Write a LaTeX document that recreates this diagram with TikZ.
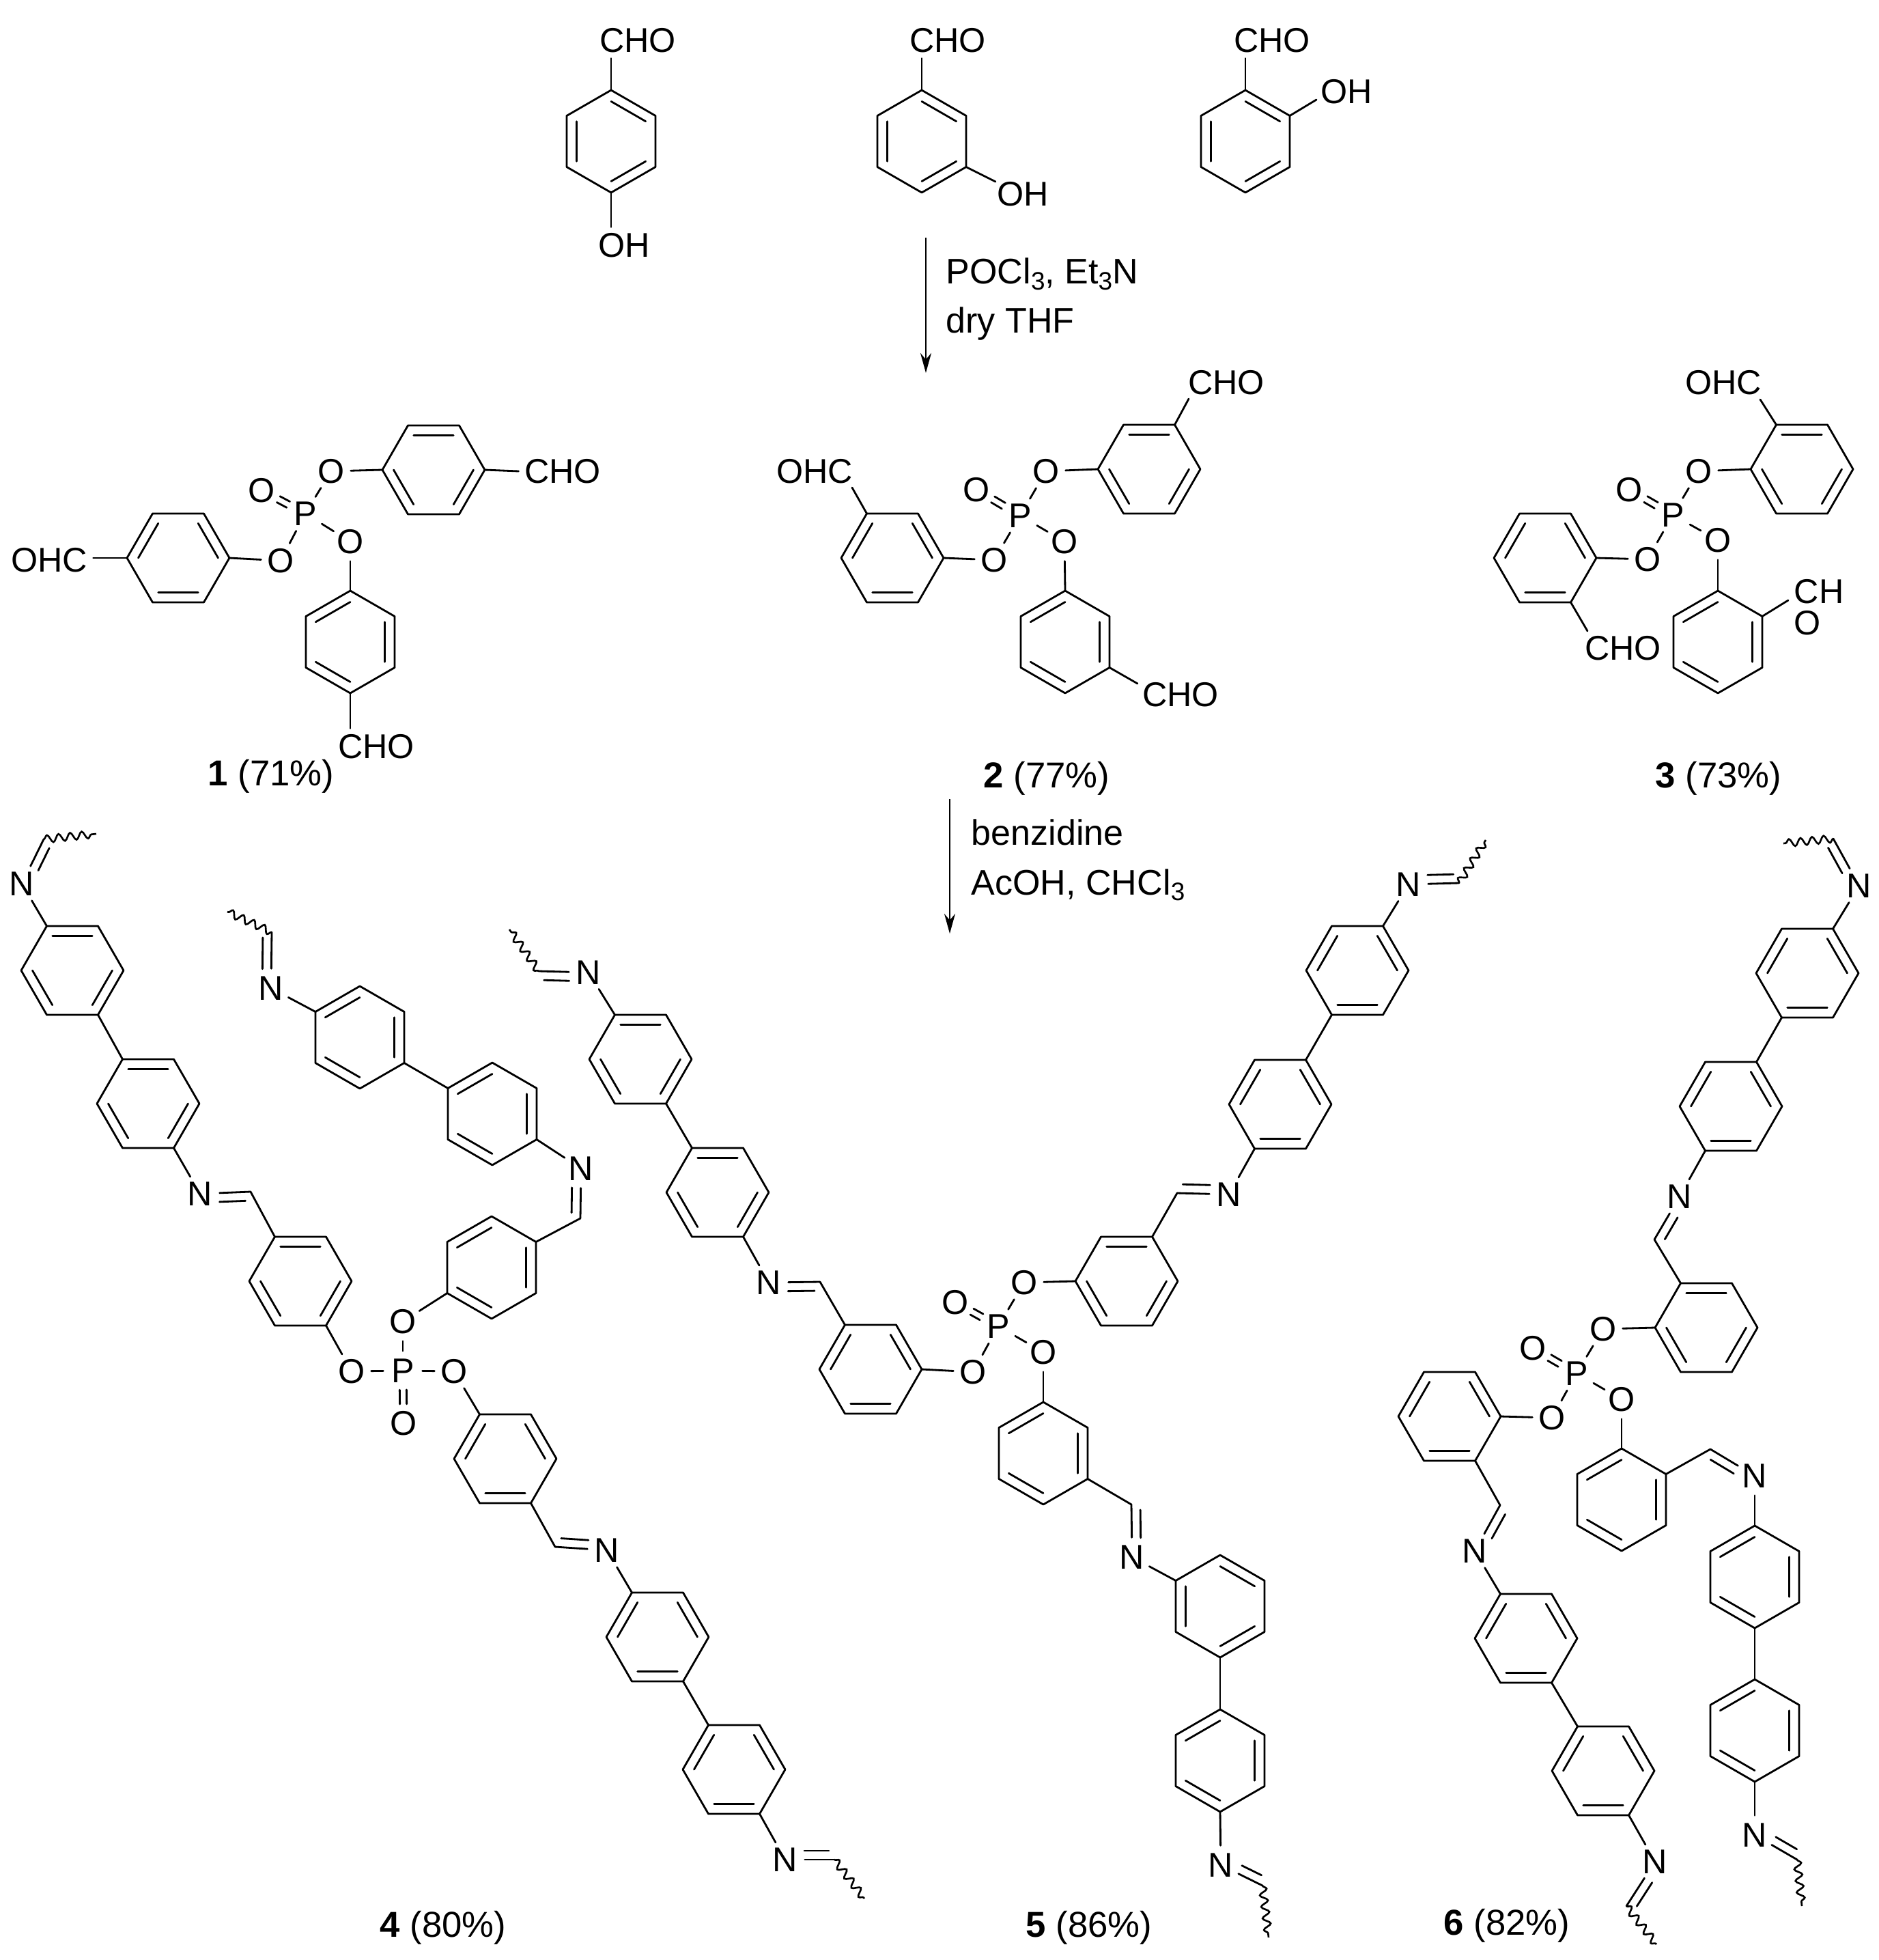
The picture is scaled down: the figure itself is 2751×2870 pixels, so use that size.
\documentclass[tikz,border=0pt]{standalone}
\usepackage{fontspec}
\setmainfont{Liberation Sans}
\usetikzlibrary{calc,arrows.meta,decorations.pathmorphing}
\newcommand{\chemfont}{\fontsize{14.3pt}{17pt}\selectfont}
\newcommand{\rxnfont}{\fontsize{14.8pt}{17pt}\selectfont}
\newcommand{\subn}[1]{\raisebox{-0.3ex}{\fontsize{10.5pt}{11pt}\selectfont #1}}
\tikzset{
  bond/.style={line width=0.8pt,line join=round,line cap=round},
  wavy/.style={line width=0.75pt,decorate,decoration={snake,amplitude=0.055cm,segment length=0.17cm}},
  atom/.style={circle,inner sep=0pt,minimum size=0.56cm,font=\chemfont},
  lab/.style={rectangle,inner sep=0.08cm,font=\chemfont},
  txt/.style={inner sep=0pt,font=\rxnfont,anchor=base west},
  yield/.style={inner sep=0pt,font=\fontsize{15pt}{18pt}\selectfont},
  rxn/.style={line width=0.7pt,-{Stealth[length=0.29cm,width=0.16cm]}}
}
\newcommand{\ringdbl}[3]{\draw[bond] ($(#1#2)!0.22!(#1c)$) -- ($(#1#3)!0.22!(#1c)$);}
\newcommand{\dblA}[1]{\ringdbl{#1}{1}{2}\ringdbl{#1}{3}{4}\ringdbl{#1}{5}{6}}
\newcommand{\dblB}[1]{\ringdbl{#1}{2}{3}\ringdbl{#1}{4}{5}\ringdbl{#1}{6}{1}}
\newcommand{\ringdraw}[2]{\draw[bond] (#11) -- (#12) -- (#13) -- (#14) -- (#15) -- (#16) -- cycle;\csname dbl#2\endcsname{#1}}
% flat-topped ring: name, cx, cy, set of double bonds
\newcommand{\ringF}[4]{%
  \coordinate (#1c) at (#2,#3);
  \coordinate (#11) at ({#2-37.5},{#3-65});
  \coordinate (#12) at ({#2+37.5},{#3-65});
  \coordinate (#13) at ({#2+75},{#3});
  \coordinate (#14) at ({#2+37.5},{#3+65});
  \coordinate (#15) at ({#2-37.5},{#3+65});
  \coordinate (#16) at ({#2-75},{#3});
  \ringdraw{#1}{#4}}
% pointy-topped ring
\newcommand{\ringP}[4]{%
  \coordinate (#1c) at (#2,#3);
  \coordinate (#11) at ({#2},{#3-75});
  \coordinate (#12) at ({#2+65},{#3-37.5});
  \coordinate (#13) at ({#2+65},{#3+37.5});
  \coordinate (#14) at ({#2},{#3+75});
  \coordinate (#15) at ({#2-65},{#3+37.5});
  \coordinate (#16) at ({#2-65},{#3-37.5});
  \ringdraw{#1}{#4}}
% P=O double bond
\newcommand{\podbl}[2]{%
  \coordinate (ts) at ($(#1)!0.28cm!(#2)$);
  \coordinate (te) at ($(#2)!0.28cm!(#1)$);
  \draw[bond] ($(ts)!0.05cm!90:(te)$) -- ($(te)!0.05cm!-90:(ts)$);
  \draw[bond] ($(ts)!0.05cm!-90:(te)$) -- ($(te)!0.05cm!90:(ts)$);}
% imine: N, C, side angle (90 or 270)
\newcommand{\imine}[3]{%
  \draw[bond] (#1) -- (#2);
  \coordinate (ts) at ($(#1)!0.28cm!(#2)$);
  \coordinate (te) at ($(#2)!0.08cm!(#1)$);
  \draw[bond] ($(ts)!0.13cm!#3:(te)$) -- ($(te)!0.13cm!-#3:(ts)$);}
% phosphate core
\newcommand{\core}[1]{%
  \draw[bond] (#1p) -- (#1oa);
  \draw[bond] (#1p) -- (#1ob);
  \draw[bond] (#1p) -- (#1oc);
  \podbl{#1p}{#1od}}
\begin{document}
\begin{tikzpicture}[x=0.01cm,y=-0.01cm]
\path[fill=white,use as bounding box] (0,0) rectangle (2751,2870);

% ---------- aldehyde starting materials ----------
\ringP{sa}{895}{207}{A}
\node[lab] (sacho) at (934,59) {CHO};
\node[lab] (saoh) at (914,359) {OH};
\draw[bond] (sa1) -- (sa1 |- sacho.south);
\draw[bond] (sa4) -- (sa4 |- saoh.north);

\ringP{sb}{1350}{207}{A}
\node[lab] (sbcho) at (1388,59) {CHO};
\node[lab] (sboh) at (1498,284) {OH};
\draw[bond] (sb1) -- (sb1 |- sbcho.south);
\draw[bond] (sb3) -- ([shift={(-40,-18)}]sboh.center);

\ringP{sc}{1824}{207}{A}
\node[lab] (sccho) at (1863,59) {CHO};
\node[lab] (scoh) at (1972,134) {OH};
\draw[bond] (sc1) -- (sc1 |- sccho.south);
\draw[bond] (sc2) -- ([shift={(-44,12)}]scoh.center);

% ---------- reaction arrows ----------
\coordinate (arAs) at (1356,348);
\coordinate (arAe) at (1356,546);
\draw[rxn] (arAs) -- (arAe);
\node[txt] (rxa) at (1385,416) {POCl\subn{3}, Et\subn{3}N};
\node[txt] (rxb) at (1385,487) {dry THF};
\coordinate (arBs) at (1391,1170);
\coordinate (arBe) at (1391,1367);
\draw[rxn] (arBs) -- (arBe);
\node[txt] (rxc) at (1422,1237) {benzidine};
\node[txt] (rxd) at (1422,1310) {AcOH, CHCl\subn{3}};

% ---------- compound 1 ----------
\ringF{ma}{635}{688}{A}
\ringF{mb}{261}{817}{B}
\ringP{mc}{513}{940}{B}
\node[atom] (m1p) at (447,752) {P};
\node[atom] (m1od) at (383,718) {O};
\node[atom] (m1oa) at (485,690) {O};
\node[atom] (m1ob) at (513,793) {O};
\node[atom] (m1oc) at (411,821) {O};
\core{m1}
\draw[bond] (m1oa) -- (ma6);
\draw[bond] (m1oc) -- (mb3);
\draw[bond] (m1ob) -- (mc1);
\node[lab] (m1x) at (824,690) {CHO};
\node[lab] (m1y) at (72,820) {OHC};
\node[lab] (m1z) at (551,1093) {CHO};
\draw[bond] (ma3) -- (m1x.west);
\draw[bond] (mb6) -- (mb6 -| m1y.east);
\draw[bond] (mc4) -- (mc4 |- m1z.north);
\node[yield] (y1) at (397,1137) {\textbf{1} (71\%)};

% ---------- compound 2 ----------
\ringF{na}{1683}{687}{A}
\ringF{nb}{1307}{817}{B}
\ringP{nc}{1560}{940}{B}
\node[atom] (m2p) at (1494,755) {P};
\node[atom] (m2od) at (1430,717) {O};
\node[atom] (m2oa) at (1532,690) {O};
\node[atom] (m2ob) at (1559,793) {O};
\node[atom] (m2oc) at (1456,820) {O};
\core{m2}
\draw[bond] (m2oa) -- (na6);
\draw[bond] (m2oc) -- (nb3);
\draw[bond] (m2ob) -- (nc1);
\node[lab] (m2x) at (1796,560) {CHO};
\node[lab] (m2y) at (1193,690) {OHC};
\node[lab] (m2z) at (1729,1017) {CHO};
\draw[bond] (na2) -- ([shift={(-55,24)}]m2x.center);
\draw[bond] (nb1) -- ([shift={(55,24)}]m2y.center);
\draw[bond] (nc3) -- ([shift={(-63,-16)}]m2z.center);
\node[yield] (y2) at (1533,1140) {\textbf{2} (77\%)};

% ---------- compound 3 ----------
\ringF{pa}{2639}{687}{A}
\ringF{pb}{2263}{817}{B}
\ringP{pc}{2516}{940}{B}
\node[atom] (m3p) at (2450,754) {P};
\node[atom] (m3od) at (2386,717) {O};
\node[atom] (m3oa) at (2488,690) {O};
\node[atom] (m3ob) at (2516,791) {O};
\node[atom] (m3oc) at (2413,819) {O};
\core{m3}
\draw[bond] (m3oa) -- (pa6);
\draw[bond] (m3oc) -- (pb3);
\draw[bond] (m3ob) -- (pc1);
\node[lab] (m3x) at (2524,560) {OHC};
\node[lab] (m3y) at (2377,949) {CHO};
\node[lab] (m3z) at (2664,866) {CH};
\node[lab] (m3w) at (2647,912) {O};
\draw[bond] (pa1) -- ([shift={(54,25)}]m3x.center);
\draw[bond] (pb4) -- ([shift={(-52,-25)}]m3y.center);
\draw[bond] (pc2) -- ([shift={(0,13)}]m3z.west);
\node[yield] (y3) at (2517,1140) {\textbf{3} (73\%)};

% ---------- compound 4 ----------
\ringF{qa}{106}{1421}{A}
\ringF{qb}{217}{1616}{A}
\ringF{qc}{440}{1876}{A}
\ringP{qd}{720}{1856}{B}
\ringP{qe}{721}{1631}{B}
\ringP{qf}{527}{1519}{B}
\ringF{qg}{740}{2136}{B}
\ringF{qh}{963}{2397}{B}
\ringF{qi}{1075}{2591}{B}
\node[atom] (m4p) at (590,2007) {P};
\node[atom] (m4od) at (591,2084) {O};
\node[atom] (m4oa) at (515,2008) {O};
\node[atom] (m4ob) at (665,2008) {O};
\node[atom] (m4oc) at (590,1935) {O};
\core{m4}
\draw[bond] (m4oa) -- (qc4);
\draw[bond] (m4oc) -- (qd5);
\draw[bond] (m4ob) -- (qg1);
\node[atom] (n4a) at (32,1294) {N};
\coordinate (c4a) at (64,1229);
\coordinate (w4a) at (141,1221);
\imine{n4a}{c4a}{270}
\draw[wavy] (c4a) -- (w4a);
\draw[bond] (n4a) -- (qa1);
\draw[bond] (qa4) -- (qb1);
\node[atom] (n4b) at (293,1748) {N};
\coordinate (c4b) at (367,1745);
\imine{n4b}{c4b}{270}
\draw[bond] (qb4) -- (n4b);
\draw[bond] (c4b) -- (qc1);
\node[atom] (n4c) at (851,1711) {N};
\coordinate (c4c) at (850,1784);
\imine{n4c}{c4c}{270}
\draw[bond] (qe3) -- (n4c);
\draw[bond] (c4c) -- (qd2);
\draw[bond] (qf3) -- (qe6);
\node[atom] (n4d) at (397,1447) {N};
\coordinate (c4d) at (398,1365);
\coordinate (w4d) at (333,1335);
\imine{n4d}{c4d}{90}
\draw[wavy] (c4d) -- (w4d);
\draw[bond] (n4d) -- (qf6);
\node[atom] (n4e) at (889,2270) {N};
\coordinate (c4e) at (813,2265);
\imine{n4e}{c4e}{270}
\draw[bond] (qg4) -- (c4e);
\draw[bond] (n4e) -- (qh1);
\draw[bond] (qh4) -- (qi1);
\node[atom] (n4f) at (1150,2723) {N};
\coordinate (c4f) at (1222,2723);
\coordinate (w4f) at (1266,2780);
\imine{n4f}{c4f}{90}
\draw[wavy] (c4f) -- (w4f);
\draw[bond] (qi4) -- (n4f);
\node[yield] (y4) at (649,2823) {\textbf{4} (80\%)};

% ---------- compound 5 ----------
\ringF{ra}{938}{1551}{A}
\ringF{rb}{1051}{1746}{A}
\ringF{rc}{1275}{2005}{B}
\ringF{rd}{1650}{1876}{A}
\ringF{re}{1875}{1617}{B}
\ringF{rf}{1988}{1421}{B}
\ringP{rg}{1528}{2128}{B}
\ringP{rh}{1787}{2352}{A}
\ringP{ri}{1787}{2578}{B}
\node[atom] (m5p) at (1462,1942) {P};
\node[atom] (m5od) at (1399,1907) {O};
\node[atom] (m5oa) at (1500,1878) {O};
\node[atom] (m5ob) at (1528,1980) {O};
\node[atom] (m5oc) at (1425,2009) {O};
\core{m5}
\draw[bond] (m5oa) -- (rd6);
\draw[bond] (m5oc) -- (rc3);
\draw[bond] (m5ob) -- (rg1);
\node[atom] (n5a) at (862,1424) {N};
\coordinate (c5a) at (789,1422);
\coordinate (w5a) at (746,1361);
\imine{n5a}{c5a}{90}
\draw[wavy] (c5a) -- (w5a);
\draw[bond] (n5a) -- (ra1);
\draw[bond] (ra4) -- (rb1);
\node[atom] (n5b) at (1126,1878) {N};
\coordinate (c5b) at (1201,1877);
\imine{n5b}{c5b}{270}
\draw[bond] (rb4) -- (n5b);
\draw[bond] (c5b) -- (rc1);
\node[atom] (n5c) at (1800,1749) {N};
\coordinate (c5c) at (1724,1747);
\imine{n5c}{c5c}{270}
\draw[bond] (rd2) -- (c5c);
\draw[bond] (n5c) -- (re5);
\draw[bond] (re2) -- (rf5);
\node[atom] (n5d) at (2063,1295) {N};
\coordinate (c5d) at (2137,1293);
\coordinate (w5d) at (2176,1230);
\imine{n5d}{c5d}{90}
\draw[wavy] (c5d) -- (w5d);
\draw[bond] (rf2) -- (n5d);
\node[atom] (n5e) at (1658,2280) {N};
\coordinate (c5e) at (1657,2203);
\imine{n5e}{c5e}{270}
\draw[bond] (rg3) -- (c5e);
\draw[bond] (n5e) -- (rh6);
\draw[bond] (rh4) -- (ri1);
\node[atom] (n5f) at (1788,2731) {N};
\coordinate (c5f) at (1849,2761);
\coordinate (w5f) at (1858,2837);
\imine{n5f}{c5f}{90}
\draw[wavy] (c5f) -- (w5f);
\draw[bond] (ri4) -- (n5f);
\node[yield] (y5) at (1595,2823) {\textbf{5} (86\%)};

% ---------- compound 6 ----------
\ringF{ta}{2647}{1425}{B}
\ringF{tb}{2535}{1620}{B}
\ringF{tc}{2499}{1944}{A}
\ringF{td}{2123}{2074}{B}
\ringP{te0}{2375}{2196}{B}
\ringP{tf}{2570}{2309}{B}
\ringP{tg}{2570}{2534}{B}
\ringF{th}{2235}{2399}{B}
\ringF{ti}{2348}{2593}{B}
\node[atom] (m6p) at (2309,2011) {P};
\node[atom] (m6od) at (2245,1974) {O};
\node[atom] (m6oa) at (2348,1946) {O};
\node[atom] (m6ob) at (2375,2049) {O};
\node[atom] (m6oc) at (2273,2076) {O};
\core{m6}
\draw[bond] (m6oa) -- (tc6);
\draw[bond] (m6oc) -- (td3);
\draw[bond] (m6ob) -- (te01);
\node[atom] (n6a) at (2723,1297) {N};
\coordinate (c6a) at (2685,1228);
\coordinate (w6a) at (2612,1235);
\imine{n6a}{c6a}{90}
\draw[wavy] (c6a) -- (w6a);
\draw[bond] (n6a) -- (ta2);
\draw[bond] (ta5) -- (tb2);
\node[atom] (n6b) at (2460,1752) {N};
\coordinate (c6b) at (2423,1815);
\imine{n6b}{c6b}{90}
\draw[bond] (tb5) -- (n6b);
\draw[bond] (c6b) -- (tc1);
\node[atom] (n6c) at (2570,2161) {N};
\coordinate (c6c) at (2505,2122);
\imine{n6c}{c6c}{90}
\draw[bond] (te02) -- (c6c);
\draw[bond] (n6c) -- (tf1);
\draw[bond] (tf4) -- (tg1);
\node[atom] (n6d) at (2570,2687) {N};
\coordinate (c6d) at (2632,2723);
\coordinate (w6d) at (2639,2791);
\imine{n6d}{c6d}{90}
\draw[wavy] (c6d) -- (w6d);
\draw[bond] (tg4) -- (n6d);
\node[atom] (n6e) at (2160,2271) {N};
\coordinate (c6e) at (2197,2204);
\imine{n6e}{c6e}{270}
\draw[bond] (td4) -- (c6e);
\draw[bond] (n6e) -- (th1);
\draw[bond] (th4) -- (ti1);
\node[atom] (n6f) at (2424,2726) {N};
\coordinate (c6f) at (2382,2791);
\coordinate (w6f) at (2426,2847);
\imine{n6f}{c6f}{90}
\draw[wavy] (c6f) -- (w6f);
\draw[bond] (ti4) -- (n6f);
\node[yield] (y6) at (2207,2820) {\textbf{6} (82\%)};
\end{tikzpicture}
\end{document}
